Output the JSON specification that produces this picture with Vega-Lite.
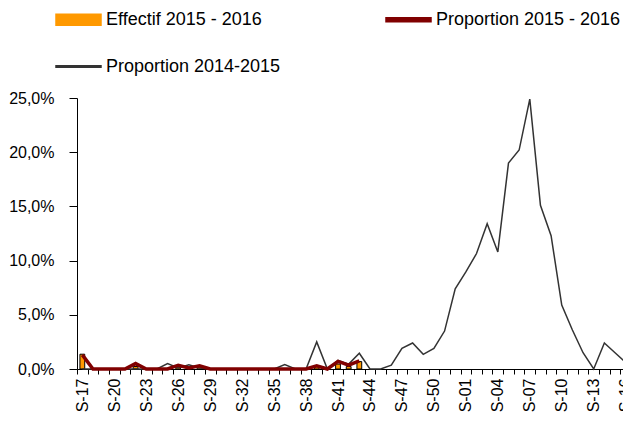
{
  "$schema": "https://vega.github.io/schema/vega-lite/v6.json",
  "width": 546,
  "height": 271,
  "autosize": {"type": "none"},
  "padding": {"left": 77, "top": 98, "right": 0, "bottom": 54},
  "background": "white",
  "config": {"view": {"stroke": null}, "font": "Liberation Sans"},
  "data": {"values": [
    {"semaine": "S-17", "serie": "Effectif 2015 - 2016", "valeur": 6},
    {"semaine": "S-18", "serie": "Effectif 2015 - 2016", "valeur": 0},
    {"semaine": "S-19", "serie": "Effectif 2015 - 2016", "valeur": 0},
    {"semaine": "S-20", "serie": "Effectif 2015 - 2016", "valeur": 0},
    {"semaine": "S-21", "serie": "Effectif 2015 - 2016", "valeur": 0},
    {"semaine": "S-22", "serie": "Effectif 2015 - 2016", "valeur": 1},
    {"semaine": "S-23", "serie": "Effectif 2015 - 2016", "valeur": 0},
    {"semaine": "S-24", "serie": "Effectif 2015 - 2016", "valeur": 0},
    {"semaine": "S-25", "serie": "Effectif 2015 - 2016", "valeur": 0},
    {"semaine": "S-26", "serie": "Effectif 2015 - 2016", "valeur": 1},
    {"semaine": "S-27", "serie": "Effectif 2015 - 2016", "valeur": 0},
    {"semaine": "S-28", "serie": "Effectif 2015 - 2016", "valeur": 1},
    {"semaine": "S-29", "serie": "Effectif 2015 - 2016", "valeur": 0},
    {"semaine": "S-30", "serie": "Effectif 2015 - 2016", "valeur": 0},
    {"semaine": "S-31", "serie": "Effectif 2015 - 2016", "valeur": 0},
    {"semaine": "S-32", "serie": "Effectif 2015 - 2016", "valeur": 0},
    {"semaine": "S-33", "serie": "Effectif 2015 - 2016", "valeur": 0},
    {"semaine": "S-34", "serie": "Effectif 2015 - 2016", "valeur": 0},
    {"semaine": "S-35", "serie": "Effectif 2015 - 2016", "valeur": 0},
    {"semaine": "S-36", "serie": "Effectif 2015 - 2016", "valeur": 0},
    {"semaine": "S-37", "serie": "Effectif 2015 - 2016", "valeur": 0},
    {"semaine": "S-38", "serie": "Effectif 2015 - 2016", "valeur": 0},
    {"semaine": "S-39", "serie": "Effectif 2015 - 2016", "valeur": 1},
    {"semaine": "S-40", "serie": "Effectif 2015 - 2016", "valeur": 0},
    {"semaine": "S-41", "serie": "Effectif 2015 - 2016", "valeur": 2},
    {"semaine": "S-42", "serie": "Effectif 2015 - 2016", "valeur": 1},
    {"semaine": "S-43", "serie": "Effectif 2015 - 2016", "valeur": 3},
    {"semaine": "S-17", "serie": "Proportion 2015 - 2016", "valeur": 0.013},
    {"semaine": "S-18", "serie": "Proportion 2015 - 2016", "valeur": 0},
    {"semaine": "S-19", "serie": "Proportion 2015 - 2016", "valeur": 0},
    {"semaine": "S-20", "serie": "Proportion 2015 - 2016", "valeur": 0},
    {"semaine": "S-21", "serie": "Proportion 2015 - 2016", "valeur": 0},
    {"semaine": "S-22", "serie": "Proportion 2015 - 2016", "valeur": 0.005},
    {"semaine": "S-23", "serie": "Proportion 2015 - 2016", "valeur": 0},
    {"semaine": "S-24", "serie": "Proportion 2015 - 2016", "valeur": 0},
    {"semaine": "S-25", "serie": "Proportion 2015 - 2016", "valeur": 0},
    {"semaine": "S-26", "serie": "Proportion 2015 - 2016", "valeur": 0.0035},
    {"semaine": "S-27", "serie": "Proportion 2015 - 2016", "valeur": 0.001},
    {"semaine": "S-28", "serie": "Proportion 2015 - 2016", "valeur": 0.003},
    {"semaine": "S-29", "serie": "Proportion 2015 - 2016", "valeur": 0},
    {"semaine": "S-30", "serie": "Proportion 2015 - 2016", "valeur": 0},
    {"semaine": "S-31", "serie": "Proportion 2015 - 2016", "valeur": 0},
    {"semaine": "S-32", "serie": "Proportion 2015 - 2016", "valeur": 0},
    {"semaine": "S-33", "serie": "Proportion 2015 - 2016", "valeur": 0},
    {"semaine": "S-34", "serie": "Proportion 2015 - 2016", "valeur": 0},
    {"semaine": "S-35", "serie": "Proportion 2015 - 2016", "valeur": 0},
    {"semaine": "S-36", "serie": "Proportion 2015 - 2016", "valeur": 0},
    {"semaine": "S-37", "serie": "Proportion 2015 - 2016", "valeur": 0},
    {"semaine": "S-38", "serie": "Proportion 2015 - 2016", "valeur": 0},
    {"semaine": "S-39", "serie": "Proportion 2015 - 2016", "valeur": 0.003},
    {"semaine": "S-40", "serie": "Proportion 2015 - 2016", "valeur": 0},
    {"semaine": "S-41", "serie": "Proportion 2015 - 2016", "valeur": 0.007},
    {"semaine": "S-42", "serie": "Proportion 2015 - 2016", "valeur": 0.0035},
    {"semaine": "S-43", "serie": "Proportion 2015 - 2016", "valeur": 0.0075},
    {"semaine": "S-17", "serie": "Proportion 2014-2015", "valeur": 0},
    {"semaine": "S-18", "serie": "Proportion 2014-2015", "valeur": 0},
    {"semaine": "S-19", "serie": "Proportion 2014-2015", "valeur": 0},
    {"semaine": "S-20", "serie": "Proportion 2014-2015", "valeur": 0},
    {"semaine": "S-21", "serie": "Proportion 2014-2015", "valeur": 0},
    {"semaine": "S-22", "serie": "Proportion 2014-2015", "valeur": 0},
    {"semaine": "S-23", "serie": "Proportion 2014-2015", "valeur": 0},
    {"semaine": "S-24", "serie": "Proportion 2014-2015", "valeur": 0},
    {"semaine": "S-25", "serie": "Proportion 2014-2015", "valeur": 0.005},
    {"semaine": "S-26", "serie": "Proportion 2014-2015", "valeur": 0.001},
    {"semaine": "S-27", "serie": "Proportion 2014-2015", "valeur": 0.004},
    {"semaine": "S-28", "serie": "Proportion 2014-2015", "valeur": 0.001},
    {"semaine": "S-29", "serie": "Proportion 2014-2015", "valeur": 0},
    {"semaine": "S-30", "serie": "Proportion 2014-2015", "valeur": 0},
    {"semaine": "S-31", "serie": "Proportion 2014-2015", "valeur": 0},
    {"semaine": "S-32", "serie": "Proportion 2014-2015", "valeur": 0},
    {"semaine": "S-33", "serie": "Proportion 2014-2015", "valeur": 0},
    {"semaine": "S-34", "serie": "Proportion 2014-2015", "valeur": 0},
    {"semaine": "S-35", "serie": "Proportion 2014-2015", "valeur": 0},
    {"semaine": "S-36", "serie": "Proportion 2014-2015", "valeur": 0.004},
    {"semaine": "S-37", "serie": "Proportion 2014-2015", "valeur": 0},
    {"semaine": "S-38", "serie": "Proportion 2014-2015", "valeur": 0},
    {"semaine": "S-39", "serie": "Proportion 2014-2015", "valeur": 0.025},
    {"semaine": "S-40", "serie": "Proportion 2014-2015", "valeur": 0},
    {"semaine": "S-41", "serie": "Proportion 2014-2015", "valeur": 0.008},
    {"semaine": "S-42", "serie": "Proportion 2014-2015", "valeur": 0.0045},
    {"semaine": "S-43", "serie": "Proportion 2014-2015", "valeur": 0.0145},
    {"semaine": "S-44", "serie": "Proportion 2014-2015", "valeur": 0},
    {"semaine": "S-45", "serie": "Proportion 2014-2015", "valeur": 0},
    {"semaine": "S-46", "serie": "Proportion 2014-2015", "valeur": 0.0035},
    {"semaine": "S-47", "serie": "Proportion 2014-2015", "valeur": 0.019},
    {"semaine": "S-48", "serie": "Proportion 2014-2015", "valeur": 0.024},
    {"semaine": "S-49", "serie": "Proportion 2014-2015", "valeur": 0.0135},
    {"semaine": "S-50", "serie": "Proportion 2014-2015", "valeur": 0.019},
    {"semaine": "S-51", "serie": "Proportion 2014-2015", "valeur": 0.035},
    {"semaine": "S-52", "serie": "Proportion 2014-2015", "valeur": 0.074},
    {"semaine": "S-01", "serie": "Proportion 2014-2015", "valeur": 0.0895},
    {"semaine": "S-02", "serie": "Proportion 2014-2015", "valeur": 0.1065},
    {"semaine": "S-03", "serie": "Proportion 2014-2015", "valeur": 0.134},
    {"semaine": "S-04", "serie": "Proportion 2014-2015", "valeur": 0.108},
    {"semaine": "S-05", "serie": "Proportion 2014-2015", "valeur": 0.19},
    {"semaine": "S-06", "serie": "Proportion 2014-2015", "valeur": 0.202},
    {"semaine": "S-07", "serie": "Proportion 2014-2015", "valeur": 0.249},
    {"semaine": "S-08", "serie": "Proportion 2014-2015", "valeur": 0.151},
    {"semaine": "S-09", "serie": "Proportion 2014-2015", "valeur": 0.123},
    {"semaine": "S-10", "serie": "Proportion 2014-2015", "valeur": 0.059},
    {"semaine": "S-11", "serie": "Proportion 2014-2015", "valeur": 0.036},
    {"semaine": "S-12", "serie": "Proportion 2014-2015", "valeur": 0.015},
    {"semaine": "S-13", "serie": "Proportion 2014-2015", "valeur": 0},
    {"semaine": "S-14", "serie": "Proportion 2014-2015", "valeur": 0.024},
    {"semaine": "S-15", "serie": "Proportion 2014-2015", "valeur": 0.015},
    {"semaine": "S-16", "serie": "Proportion 2014-2015", "valeur": 0.006}
  ]},
  "encoding": {
    "x": {
      "field": "semaine", "type": "ordinal", "sort": null,
      "scale": {
        "domain": ["S-17","S-18","S-19","S-20","S-21","S-22","S-23","S-24","S-25","S-26","S-27","S-28","S-29","S-30","S-31","S-32","S-33","S-34","S-35","S-36","S-37","S-38","S-39","S-40","S-41","S-42","S-43","S-44","S-45","S-46","S-47","S-48","S-49","S-50","S-51","S-52","S-01","S-02","S-03","S-04","S-05","S-06","S-07","S-08","S-09","S-10","S-11","S-12","S-13","S-14","S-15","S-16"],
        "range": [0, 554], "paddingInner": 0, "paddingOuter": 0
      },
      "axis": {
        "title": null, "labelAngle": -90, "labelFontSize": 16, "labelColor": "black",
        "tickBand": "extent", "tickSize": 5, "tickColor": "black", "domainColor": "black",
        "labelPadding": 4, "labelOverlap": false, "labelBound": false, "grid": false,
        "labelExpr": "test(/^S-(17|20|23|26|29|32|35|38|41|44|47|50|01|04|07|10|13|16)$/, datum.value) ? datum.value : ''"
      }
    },
    "color": {
      "field": "serie", "type": "nominal",
      "scale": {"domain": ["Effectif 2015 - 2016", "Proportion 2015 - 2016", "Proportion 2014-2015"], "range": ["#FF9900", "#800000", "#333333"]},
      "legend": {
        "title": null, "orient": "none", "direction": "horizontal", "legendX": -22, "legendY": -102, "columns": 2,
        "columnPadding": 102, "rowPadding": 14, "padding": 0, "labelFontSize": 18, "labelColor": "black",
        "labelFont": "Liberation Sans", "labelOffset": 4, "symbolSize": 2025, "symbolStrokeWidth": 1.5,
        "symbolStrokeColor": "black", "labelLimit": 400,
        "encode": {
          "symbols": {
            "update": {
              "shape": {"signal": "datum.value === 'Effectif 2015 - 2016' ? 'M-1,-0.244H1V0.244H-1Z' : (datum.value === 'Proportion 2015 - 2016' ? 'M-1,-0.089H1V0.089H-1Z' : 'M-1,-0.033H1V0.033H-1Z')"},
              "fill": {"signal": "datum.value === 'Effectif 2015 - 2016' ? '#FF9900' : (datum.value === 'Proportion 2015 - 2016' ? '#800000' : '#333333')"},
              "stroke": {"signal": "datum.value === 'Effectif 2015 - 2016' ? '#000000' : 'transparent'"},
              "strokeWidth": {"value": 1.5},
              "strokeOpacity": {"value": 1},
              "opacity": {"value": 1},
              "fillOpacity": {"value": 1}
            },
            "stroke": {"signal": "datum.value === 'Effectif 2015 - 2016' ? '#000000' : 'transparent'"},
            "strokeWidth": {"value": 1.5}
          }
        }
      }
    }
  },
  "layer": [
    {
      "transform": [{"filter": "datum.serie === 'Effectif 2015 - 2016'"}],
      "mark": {"type": "bar", "stroke": "black", "strokeWidth": 1, "width": {"band": 0.45}},
      "encoding": {
        "y": {"field": "valeur", "type": "quantitative", "scale": {"domain": [0, 110], "nice": false}, "axis": null}
      }
    },
    {
      "encoding": {
        "y": {
          "field": "valeur", "type": "quantitative",
          "scale": {"domain": [0, 0.25], "nice": false},
          "axis": {
            "title": null, "values": [0, 0.05, 0.1, 0.15, 0.2, 0.25],
            "labelExpr": "replace(format(datum.value, '.1%'), '.', ',')",
            "labelFontSize": 16, "labelColor": "black", "tickSize": 8, "labelPadding": 15,
            "grid": false, "domainColor": "black", "tickColor": "black"
          }
        }
      },
      "layer": [
        {
          "transform": [{"filter": "datum.serie === 'Proportion 2014-2015'"}],
          "mark": {"type": "line", "strokeWidth": 1.5}
        },
        {
          "transform": [{"filter": "datum.serie === 'Proportion 2015 - 2016'"}],
          "mark": {"type": "line", "strokeWidth": 3.5}
        }
      ]
    }
  ],
  "resolve": {"scale": {"y": "independent"}}
}
